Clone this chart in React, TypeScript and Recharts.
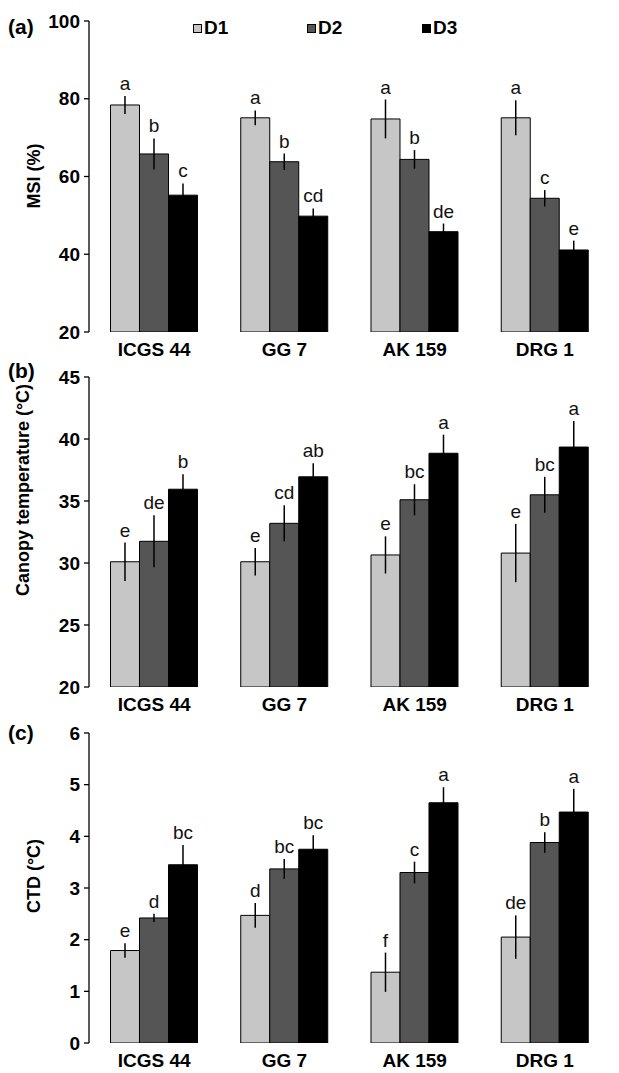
import React from 'react';
import { BarChart, Bar, XAxis, YAxis, ErrorBar, LabelList } from 'recharts';

const categories = ['ICGS 44', 'GG 7', 'AK 159', 'DRG 1'];
const seriesNames = ['D1', 'D2', 'D3'];
const seriesColors = ['#c6c6c6', '#555555', '#000000'];

// (a) MSI (%)
const msiD1 = [78.4, 75.1, 74.8, 75.1];
const msiD2 = [65.8, 63.8, 64.4, 54.4];
const msiD3 = [55.2, 49.8, 45.8, 41.1];
const msiD1Err = [2.3, 1.9, 5.0, 4.5];
const msiD2Err = [4.0, 2.1, 2.4, 2.1];
const msiD3Err = [3.0, 2.0, 2.1, 2.4];
const msiD1Letters = ['a', 'a', 'a', 'a'];
const msiD2Letters = ['b', 'b', 'b', 'c'];
const msiD3Letters = ['c', 'cd', 'de', 'e'];
const msiTicks = [20, 40, 60, 80, 100];

// (b) Canopy temperature (°C)
const ctD1 = [30.1, 30.1, 30.65, 30.8];
const ctD2 = [31.75, 33.2, 35.1, 35.5];
const ctD3 = [35.95, 36.95, 38.85, 39.35];
const ctD1Err = [1.55, 1.1, 1.5, 2.35];
const ctD2Err = [2.1, 1.45, 1.25, 1.45];
const ctD3Err = [1.2, 1.1, 1.5, 2.1];
const ctD1Letters = ['e', 'e', 'e', 'e'];
const ctD2Letters = ['de', 'cd', 'bc', 'bc'];
const ctD3Letters = ['b', 'ab', 'a', 'a'];
const ctTicks = [20, 25, 30, 35, 40, 45];

// (c) CTD (°C)
const ctdD1 = [1.79, 2.47, 1.37, 2.05];
const ctdD2 = [2.42, 3.37, 3.3, 3.88];
const ctdD3 = [3.45, 3.75, 4.65, 4.47];
const ctdD1Err = [0.14, 0.24, 0.38, 0.42];
const ctdD2Err = [0.08, 0.19, 0.21, 0.2];
const ctdD3Err = [0.38, 0.27, 0.3, 0.45];
const ctdD1Letters = ['e', 'd', 'f', 'de'];
const ctdD2Letters = ['d', 'bc', 'c', 'b'];
const ctdD3Letters = ['bc', 'bc', 'a', 'a'];
const ctdTicks = [0, 1, 2, 3, 4, 5, 6];

const FONT = '"Liberation Sans", Arial, Helvetica, sans-serif';

function buildRows(v1: number[], v2: number[], v3: number[], e1: number[], e2: number[], e3: number[]) {
  return categories.map((cat, i) => ({
    cat,
    d1: v1[i], d2: v2[i], d3: v3[i],
    d1e: e1[i], d2e: e2[i], d3e: e3[i],
  }));
}

const makeLetterLabel = (letters: string[], errs: number[], min: number) => (props: any) => {
  const { x, y, width, height, index, value } = props;
  const v = Number(value);
  const h = Math.abs(Number(height));
  const pxPerUnit = v - min !== 0 ? h / (v - min) : 0;
  const errPx = (errs[index] || 0) * pxPerUnit;
  return (
    <text
      x={Number(x) + Number(width) / 2}
      y={Number(y) - errPx - 6}
      textAnchor="middle"
      fontSize={19}
      fontFamily={FONT}
      fill="#111"
    >
      {letters[index]}
    </text>
  );
};

type PanelProps = {
  top: number;
  height: number;
  marginTop: number;
  rows: any[];
  domain: [number, number];
  ticks: number[];
  errs: number[][];
  letters: string[][];
};

function Panel({ top, height, marginTop, rows, domain, ticks, errs, letters }: PanelProps) {
  const keys = ['d1', 'd2', 'd3'];
  return (
    <div style={{ position: 'absolute', left: 0, top, width: 619, height }}>
      <BarChart
        width={619}
        height={height}
        data={rows}
        margin={{ top: marginTop, right: 9, bottom: 0, left: 0 }}
        barCategoryGap="16.5%"
        barGap={0}
      >
        <XAxis
          xAxisId="div"
          type="number"
          domain={[0, 4]}
          ticks={[0, 1, 2, 3, 4]}
          tick={false}
          tickSize={6}
          height={0}
          allowDataOverflow
          axisLine={{ stroke: '#000', strokeWidth: 1.3 }}
          tickLine={{ stroke: '#000', strokeWidth: 1.3 }}
        />
        <XAxis
          dataKey="cat"
          height={30}
          axisLine={false}
          tickLine={false}
          tickMargin={5}
          interval={0}
          tick={{ fontSize: 19, fontWeight: 'bold', fill: '#000', fontFamily: FONT }}
        />
        <YAxis
          domain={domain}
          ticks={ticks}
          width={89}
          allowDataOverflow
          interval={0}
          tickSize={5}
          tickMargin={4}
          axisLine={{ stroke: '#000', strokeWidth: 1.3 }}
          tickLine={{ stroke: '#000', strokeWidth: 1.3 }}
          tick={{ fontSize: 19, fontWeight: 'bold', fill: '#000', fontFamily: FONT }}
        />
        {keys.map((k, i) => (
          <Bar
            key={k}
            dataKey={k}
            name={seriesNames[i]}
            fill={seriesColors[i]}
            stroke="#000"
            strokeWidth={1}
            isAnimationActive={false}
          >
            <ErrorBar
              dataKey={k + 'e'}
              width={0}
              stroke="#000"
              strokeWidth={1.5}
              direction="y"
              isAnimationActive={false}
            />
            <LabelList dataKey={k} content={makeLetterLabel(letters[i], errs[i], domain[0])} />
          </Bar>
        ))}
      </BarChart>
    </div>
  );
}

const rotatedTitle = (text: string, cx: number, cy: number) => (
  <div
    style={{
      position: 'absolute',
      left: cx,
      top: cy,
      transform: 'translate(-50%, -50%) rotate(-90deg)',
      whiteSpace: 'nowrap',
      fontFamily: FONT,
      fontWeight: 'bold',
      fontSize: 18,
      lineHeight: '18px',
      color: '#000',
    }}
  >
    {text}
  </div>
);

const panelLabel = (text: string, left: number, top: number) => (
  <div
    style={{
      position: 'absolute',
      left,
      top,
      fontFamily: FONT,
      fontWeight: 'bold',
      fontSize: 21,
      lineHeight: '21px',
      color: '#000',
    }}
  >
    {text}
  </div>
);

const legendLefts = [193, 307, 422];

export default function App() {
  const msiRows = buildRows(msiD1, msiD2, msiD3, msiD1Err, msiD2Err, msiD3Err);
  const ctRows = buildRows(ctD1, ctD2, ctD3, ctD1Err, ctD2Err, ctD3Err);
  const ctdRows = buildRows(ctdD1, ctdD2, ctdD3, ctdD1Err, ctdD2Err, ctdD3Err);
  return (
    <div style={{ position: 'absolute', left: 0, top: 0, width: 619, height: 1073, background: '#fff', overflow: 'hidden' }}>
      <Panel
        top={0}
        height={362}
        marginTop={21}
        rows={msiRows}
        domain={[20, 100]}
        ticks={msiTicks}
        errs={[msiD1Err, msiD2Err, msiD3Err]}
        letters={[msiD1Letters, msiD2Letters, msiD3Letters]}
      />
      <Panel
        top={345}
        height={372}
        marginTop={32}
        rows={ctRows}
        domain={[20, 45]}
        ticks={ctTicks}
        errs={[ctD1Err, ctD2Err, ctD3Err]}
        letters={[ctD1Letters, ctD2Letters, ctD3Letters]}
      />
      <Panel
        top={700}
        height={373}
        marginTop={33}
        rows={ctdRows}
        domain={[0, 6]}
        ticks={ctdTicks}
        errs={[ctdD1Err, ctdD2Err, ctdD3Err]}
        letters={[ctdD1Letters, ctdD2Letters, ctdD3Letters]}
      />
      {rotatedTitle('MSI (%)', 34, 176)}
      {rotatedTitle('Canopy  temperature (°C)', 23, 490)}
      {rotatedTitle('CTD (°C)', 34, 876)}
      {panelLabel('(a)', 8, 16)}
      {panelLabel('(b)', 8, 360)}
      {panelLabel('(c)', 8, 722)}
      {seriesNames.map((n, i) => (
        <div key={n} style={{ position: 'absolute', left: legendLefts[i], top: 18, height: 20, display: 'flex', alignItems: 'center' }}>
          <div style={{ width: 7, height: 7, border: '1px solid #000', background: seriesColors[i], marginRight: 2 }} />
          <span style={{ fontFamily: FONT, fontWeight: 'bold', fontSize: 19, lineHeight: '20px', color: '#000' }}>{n}</span>
        </div>
      ))}
    </div>
  );
}
